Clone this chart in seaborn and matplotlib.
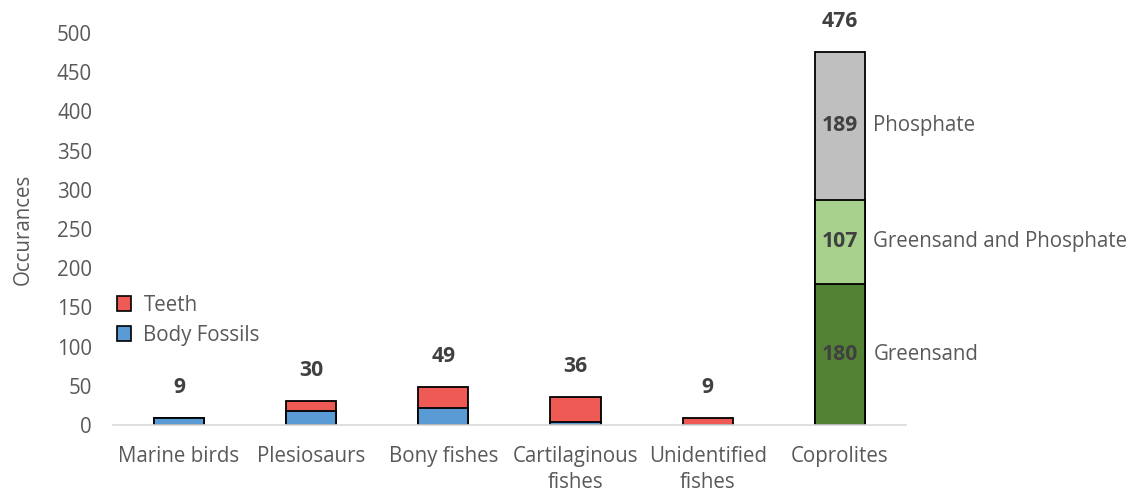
import matplotlib
matplotlib.use("Agg")
import matplotlib.pyplot as plt
from matplotlib.patches import Patch
import seaborn as sns
import numpy as np

categories = ["Marine birds", "Plesiosaurs", "Bony fishes", "Cartilaginous\nfishes", "Unidentified\nfishes", "Coprolites"]
fossil_cats = ["Marine birds", "Plesiosaurs", "Bony fishes", "Cartilaginous\nfishes", "Unidentified\nfishes"]
body_fossils = [9, 18, 22, 4, 0]
teeth = [0, 12, 27, 32, 9]
coprolite_labels = ["Greensand", "Greensand and Phosphate", "Phosphate"]
coprolite_values = [180, 107, 189]

sns.set_theme(style="white")
plt.rcParams["font.family"] = ["Open Sans", "DejaVu Sans"]

c_red = "#EF5A54"
c_blue = "#5B9BD5"
c_grey = "#BFBFBF"
c_lgreen = "#A9D18E"
c_dgreen = "#548235"
txt = "#595959"
dark = "#404040"

fig = plt.figure(figsize=(11.29, 4.93), dpi=100)
ax = fig.add_axes([0.100, 0.138, 0.7025, 0.795])

w = 0.38
ekw = dict(edgecolor="black", linewidth=1.3, width=w, order=categories, ax=ax)

totals = [b + t for b, t in zip(body_fossils, teeth)]
sns.barplot(x=fossil_cats, y=totals, color=c_red, saturation=1, **ekw)
body_cats = [c for c, b in zip(fossil_cats, body_fossils) if b > 0]
body_vals = [b for b in body_fossils if b > 0]
sns.barplot(x=body_cats, y=body_vals, color=c_blue, saturation=1, **ekw)

cum = np.cumsum(coprolite_values)
cop_colors = [c_dgreen, c_lgreen, c_grey]
for i in range(len(coprolite_values) - 1, -1, -1):
    sns.barplot(x=["Coprolites"], y=[cum[i]], color=cop_colors[i], saturation=1, **ekw)

fs = 14.8
fsb = 15.2
# total labels
for i, c in enumerate(fossil_cats):
    ax.annotate(str(totals[i]), (i, totals[i]), xytext=(0, 22), textcoords="offset points",
                ha="center", va="center", fontsize=fsb, fontweight="bold", color=dark)
ci = categories.index("Coprolites")
ax.annotate(str(int(cum[-1])), (ci, cum[-1]), xytext=(0, 22), textcoords="offset points",
            ha="center", va="center", fontsize=fsb, fontweight="bold", color=dark)
# segment labels
prev = 0
for v, lab, top in zip(coprolite_values, coprolite_labels, cum):
    mid = prev + v / 2
    ax.text(ci, mid, str(v), ha="center", va="center", fontsize=fsb, fontweight="bold", color=dark)
    ax.annotate(lab, (ci + w / 2, mid), xytext=(6, 0), textcoords="offset points",
                ha="left", va="center", fontsize=fs, color=txt)
    prev = top

ax.set_xlim(-0.5, 5.5)
ax.set_ylim(0, 500)
ax.set_yticks(range(0, 501, 50))
ax.set_ylabel("Occurances", fontsize=fs, color=txt, labelpad=17)
ax.set_xlabel("")
ax.tick_params(axis="both", length=0, labelsize=fs, colors=txt)
ax.tick_params(axis="y", pad=15)
ax.tick_params(axis="x", pad=15)
for t in ax.get_xticklabels():
    t.set_linespacing(1.3)
for s in ["top", "right", "left"]:
    ax.spines[s].set_visible(False)
ax.spines["bottom"].set_color("#D9D9D9")
ax.spines["bottom"].set_linewidth(1.2)

handles = [Patch(facecolor=c_red, edgecolor="black", linewidth=1.2, label="Teeth"),
           Patch(facecolor=c_blue, edgecolor="black", linewidth=1.2, label="Body Fossils")]
leg = fig.legend(handles=handles, loc="upper left", bbox_to_anchor=(0.087, 0.44),
                 frameon=False, fontsize=fs, handlelength=0.7, handleheight=0.7,
                 handletextpad=0.6, labelspacing=0.45)
for t in leg.get_texts():
    t.set_color(txt)

fig.savefig("out.png", dpi=100)
